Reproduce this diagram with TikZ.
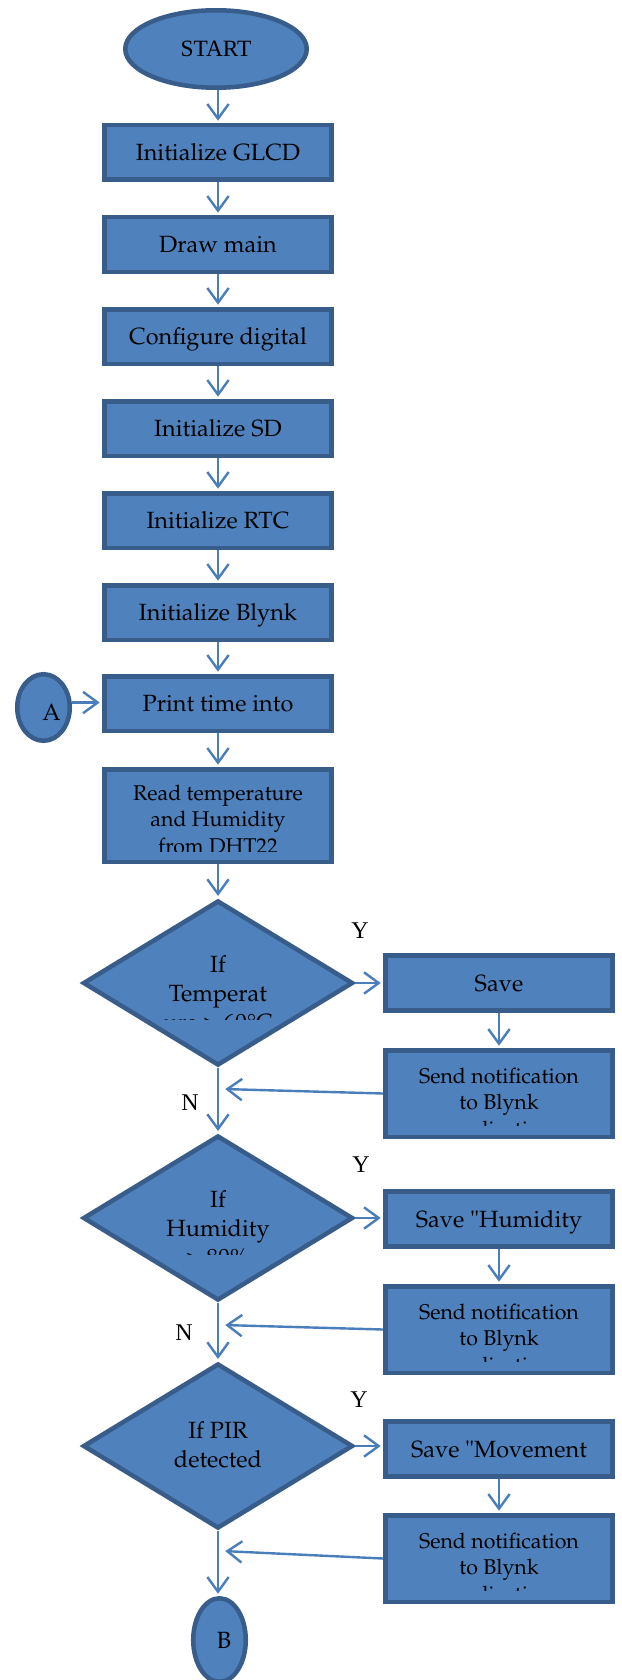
\documentclass[tikz,border=0pt]{standalone}
\usepackage[T1]{fontenc}
\usepackage{fontspec}
\setmainfont{Liberation Serif}
\usetikzlibrary{shapes.geometric,arrows.meta,calc}
\definecolor{fillc}{HTML}{4F81BD}
\definecolor{bdr}{HTML}{385D8A}
\definecolor{arrc}{HTML}{4A7EBB}
\newcommand\palbig{\fontencoding{T1}\fontfamily{ppl}\fontsize{17.6}{21.75}\selectfont}
\newcommand\palsmall{\fontencoding{T1}\fontfamily{ppl}\fontsize{16}{20}\selectfont}
\newcommand\tmsfont{\fontsize{18}{22}\selectfont}
\newcommand\tmsstart{\fontsize{17.5}{21}\selectfont}
% #1 font, #2 first baseline offset (px from centre), #3 clip line (px from centre), #4 text, #5 name
\newcommand\cliptxt[5]{%
  \clip (path picture bounding box.north west) rectangle ($(path picture bounding box.east)+(0,#3)$);
  \node[anchor=base, inner sep=0pt, font=#1] (#5) at ($(path picture bounding box.center)+(0,#2)$)
    {\begin{tabular}[t]{@{}c@{}}#4\end{tabular}};}
\tikzset{
  blk/.style={draw=bdr, fill=fillc, line width=3.4pt, inner sep=0pt},
  box/.style={blk, rectangle, minimum width=170.6pt, minimum height=40.9pt,
              font=\palbig, text height=12pt, text depth=0pt},
  nbox/.style={blk, rectangle, minimum width=170.6pt, minimum height=64.9pt},
  dec/.style={blk, diamond, aspect=1.63, minimum width=202.5pt, minimum height=123.75pt},
  term/.style={blk, ellipse},
  arr/.style={draw=arrc, line width=1.8pt, -{Straight Barb[length=11pt,width=16pt]}, shorten >=1.7pt},
  yn/.style={font=\tmsfont, inner sep=0pt},
}
\begin{document}
\begin{tikzpicture}[x=0.75pt,y=-0.75pt]
\useasboundingbox (0,0) rectangle (621,1680);
\clip (0,0) rectangle (621,1680);
\fill[white] (0,0) rectangle (621,1680);

% main column
\node[term, minimum width=136.1pt, minimum height=58.1pt, font=\tmsstart, text height=11.6pt, text depth=0pt] (start) at (216,49) {START};
\node[box] (glcd)  at (218,152.5) {Initialize GLCD};
\node[box] (drawm) at (218,244.5) {Draw main};
\node[box] (cfg)   at (218,336.5) {Configure digital};
\node[box] (sd)    at (218,428.5) {Initialize SD};
\node[box] (rtc)   at (218,520.5) {Initialize RTC};
\node[box] (blynk) at (218,612.5) {Initialize Blynk};
\node[box] (print) at (218,703.5) {Print time into};
\node[blk, rectangle, minimum width=170.6pt, minimum height=69.4pt,
      path picture={\cliptxt{\palsmall}{-15.5}{35.5}{Read temperature\\and Humidity\\from DHT22}{readtxt}}] (read) at (218,815.5) {};

\node[term, minimum width=39.4pt, minimum height=49.9pt, font=\palbig, text height=18.8pt, text depth=0pt] (A) at (43.5,707.5) {\kern12pt A};

% decisions
\node[dec, path picture={\cliptxt{\palbig}{-11}{36}{If\\Temperat\\ure > 60\textdegree C}{d1txt}}] (d1) at (218,983) {};
\node[dec, path picture={\cliptxt{\palbig}{-11}{36}{If\\Humidity\\> 80\%}{d2txt}}] (d2) at (218,1218) {};
\node[dec, path picture={\cliptxt{\palbig}{-8}{80}{If PIR\\detected}{d3txt}}] (d3) at (218,1446) {};

% right column
\node[box, minimum height=41.6pt] (save1) at (499,983) {Save};
\node[nbox, path picture={\cliptxt{\palsmall}{-10.5}{31.5}{Send notification\\to Blynk\\application}{send1txt}}] (send1) at (499,1093.5) {};
\node[box, minimum height=41.6pt] (save2) at (499,1219) {Save "Humidity};
\node[nbox, path picture={\cliptxt{\palsmall}{-10.5}{31.5}{Send notification\\to Blynk\\application}{send2txt}}] (send2) at (499,1329.5) {};
\node[box, minimum height=41.6pt] (save3) at (499,1449) {Save "Movement};
\node[nbox, path picture={\cliptxt{\palsmall}{-10.5}{31.5}{Send notification\\to Blynk\\application}{send3txt}}] (send3) at (499,1558.5) {};

\node[term, minimum width=39.4pt, minimum height=62.6pt, font=\palbig, text height=12pt, text depth=0pt] (B) at (219.5,1640) {\kern6.75pt B};

% labels
\node[yn] (y1) at (360,931) {Y};
\node[yn] (y2) at (361,1165) {Y};
\node[yn] (y3) at (359,1400) {Y};
\node[yn] (n1) at (190,1103) {N};
\node[yn] (n2) at (184,1333) {N};

% connectors
\draw[arr] (glcd.north |- start.south) -- (glcd.north);
\draw[arr] (glcd) -- (drawm);
\draw[arr] (drawm) -- (cfg);
\draw[arr] (cfg) -- (sd);
\draw[arr] (sd) -- (rtc);
\draw[arr] (rtc) -- (blynk);
\draw[arr] (blynk) -- (print);
\draw[arr] (print) -- (read);
\draw[arr] (read) -- (d1);
\draw[arr] (A.10) -- (A.10 -| print.west);

\draw[arr] (d1.east) -- (d1.east -| save1.west);
\draw[arr] (save1) -- (send1);
\coordinate (fb1) at (223,1089);
\draw[arr] (send1.west) -- (fb1);
\draw[arr] (d1) -- (d2);

\draw[arr] (d2.east) -- (d2.east -| save2.west);
\draw[arr] (save2) -- (send2);
\coordinate (fb2) at (223,1325);
\draw[arr] (send2.west) -- (fb2);
\draw[arr] (d2) -- (d3);

\draw[arr] (d3.east) -- (d3.east -| save3.west);
\draw[arr] (save3) -- (send3);
\coordinate (fb3) at (223,1551);
\draw[arr] (send3.west) -- (fb3);
\draw[arr] (d3.south) -- (d3.south |- B.north);
\end{tikzpicture}
\end{document}
